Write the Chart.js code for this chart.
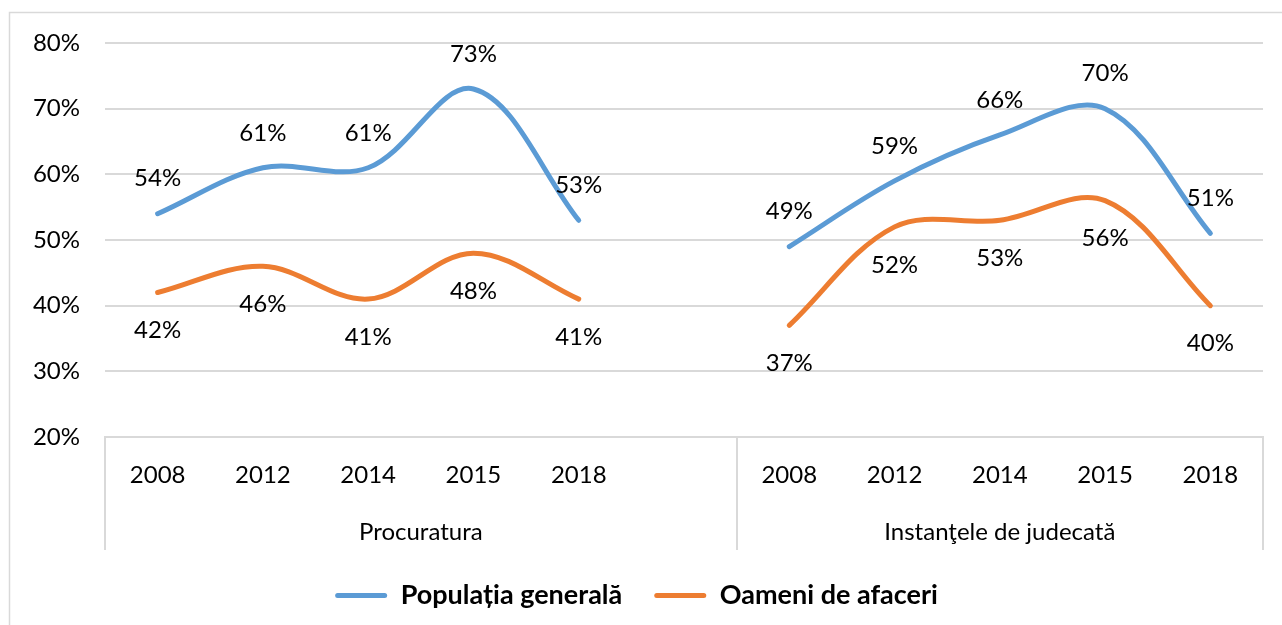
<!DOCTYPE html>
<html>
<head>
<meta charset="utf-8">
<script src="https://cdn.jsdelivr.net/npm/chart.js@4.4.0/dist/chart.umd.min.js"></script>
<style>
  body { margin: 0; background: #fff; }
  #wrap { width: 1282px; height: 625px; }
</style>
</head>
<body>
<div id="wrap"><canvas id="chart"></canvas></div>
<script>
// categories: two groups, a blank slot closes the first group
const years = ['2008', '2012', '2014', '2015', '2018', '', '2008', '2012', '2014', '2015', '2018'];
const groups = ['Procuratura', 'Instanţele de judecată'];
const groupBounds = [[-0.5, 5.5], [5.5, 10.5]];

const populatia = [54, 61, 61, 73, 53, null, 49, 59, 66, 70, 51];
const oameni = [42, 46, 41, 48, 41, null, 37, 52, 53, 56, 40];

const yTicks = [20, 30, 40, 50, 60, 70, 80];

const FONT = 'Lato, "Open Sans", sans-serif';
const GRID = '#d9d9d9';

const extrasPlugin = {
  id: 'extras',
  beforeDraw(chart) {
    const { ctx, width, height } = chart;
    ctx.save();
    ctx.fillStyle = '#fff';
    ctx.fillRect(0, 0, width, height);
    ctx.strokeStyle = '#d9d9d9';
    ctx.lineWidth = 1.5;
    ctx.beginPath();
    ctx.moveTo(9.5, height + 5);
    ctx.lineTo(9.5, 12.5);
    ctx.lineTo(width + 5, 12.5);
    ctx.stroke();
    ctx.restore();
  },
  afterDatasetsDraw(chart) {
    const { ctx } = chart;
    const x = chart.scales.x;
    const bottom = chart.chartArea.bottom;
    ctx.save();
    // group separators under the axis
    ctx.strokeStyle = GRID;
    ctx.lineWidth = 2;
    [-0.5, 5.5, 10.5].forEach(v => {
      const px = Math.round(x.getPixelForValue(v));
      ctx.beginPath();
      ctx.moveTo(px, bottom);
      ctx.lineTo(px, bottom + 113);
      ctx.stroke();
    });
    ctx.fillStyle = '#000';
    ctx.font = '24px ' + FONT;
    ctx.textAlign = 'center';
    ctx.textBaseline = 'middle';
    groups.forEach((g, i) => {
      const a = x.getPixelForValue(groupBounds[i][0]);
      const b = x.getPixelForValue(groupBounds[i][1]);
      ctx.fillText(g, (a + b) / 2, bottom + 95);
    });
    // data labels
    chart.data.datasets.forEach((ds, di) => {
      const meta = chart.getDatasetMeta(di);
      meta.data.forEach((pt, i) => {
        const v = ds.data[i];
        if (v === null) return;
        const dy = di === 0 ? -35 : 38;
        ctx.fillText(v + '%', pt.x, pt.y + dy);
      });
    });
    ctx.restore();
  }
};

new Chart(document.getElementById('chart'), {
  type: 'line',
  data: {
    labels: years,
    datasets: [
      {
        label: 'Populația generală',
        data: populatia,
        borderColor: '#5b9bd5',
        backgroundColor: '#5b9bd5',
        borderWidth: 5,
        borderCapStyle: 'round',
        tension: 0.35,
        pointRadius: 0,
        spanGaps: false
      },
      {
        label: 'Oameni de afaceri',
        data: oameni,
        borderColor: '#ed7d31',
        backgroundColor: '#ed7d31',
        borderWidth: 5,
        borderCapStyle: 'round',
        tension: 0.35,
        pointRadius: 0,
        spanGaps: false
      }
    ]
  },
  options: {
    responsive: true,
    maintainAspectRatio: false,
    animation: false,
    layout: { padding: { left: 10, right: 19, top: 43, bottom: 6 } },
    scales: {
      x: {
        offset: true,
        grid: { display: false, drawTicks: false },
        border: { display: true, color: GRID, width: 2 },
        ticks: { color: '#000', font: { family: FONT, size: 24 }, padding: 24, maxRotation: 0, autoSkip: false },
        afterFit: s => { s.height = 113; }
      },
      y: {
        min: yTicks[0],
        max: yTicks[yTicks.length - 1],
        afterBuildTicks: s => { s.ticks = yTicks.map(v => ({ value: v })); },
        grid: { color: GRID, lineWidth: 2, drawTicks: false },
        border: { display: false },
        ticks: { color: '#000', font: { family: FONT, size: 24 }, padding: 25, callback: v => v + '%' },
        afterFit: s => { s.width = 95; }
      }
    },
    plugins: {
      tooltip: { enabled: false },
      legend: {
        position: 'bottom',
        labels: {
          color: '#000',
          font: { family: FONT, size: 27, weight: 'bold' },
          boxWidth: 52,
          boxHeight: 5,
          padding: 32,
          useBorderRadius: true,
          borderRadius: 2.5,
          generateLabels: chart => Chart.defaults.plugins.legend.labels.generateLabels(chart)
            .map(l => Object.assign(l, { lineWidth: 0 }))
        }
      }
    }
  },
  plugins: [extrasPlugin]
});
</script>
</body>
</html>
